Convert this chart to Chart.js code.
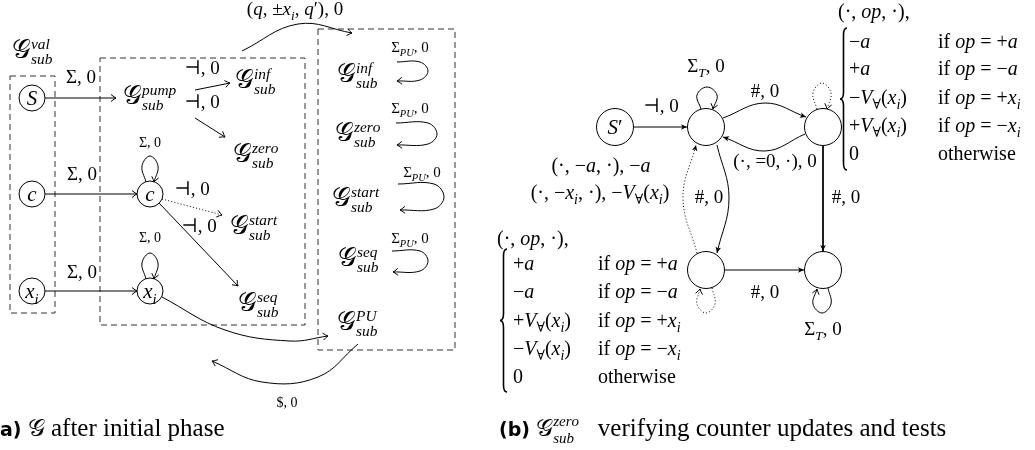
<!DOCTYPE html>
<html>
<head>
<meta charset="utf-8">
<script src="https://cdn.jsdelivr.net/npm/chart.js@4.4.0/dist/chart.umd.min.js"></script>
<style>
  html, body { margin: 0; padding: 0; background: #fff; }
</style>
</head>
<body>
<canvas id="diagram" width="1035" height="450"></canvas>
<script>
// frame is 1035 x 450, y grows downwards (reversed axis)

// states
const nodeLabels = ['S', 'c', 'x_i', 'c', 'x_i', 'S′', '', '', '', ''];
const nodeX = [32, 32, 32, 150, 150, 615, 706, 823, 706, 823];
const nodeY = [98, 194, 291, 194, 291, 127, 127, 127, 270, 270];
const nodeR = [13, 13, 13, 13, 13, 18.5, 18.5, 18.5, 18.5, 18.5];

// dashed boxes of part (a): [left, top, right, bottom]
const boxes = [
    [10, 76, 55, 313],
    [100, 58, 305, 325],
    [318, 29, 455, 350]
];

// transitions: points the edge runs through, line style, arrow head
const edgePoints = [
    // part (a)
    [[45, 98], [116, 98]],
    [[45, 194], [137, 194]],
    [[45, 291], [137, 291]],
    [[195, 90], [230, 83]],
    [[195, 118], [225, 137]],
    [[162, 199], [222, 215]],
    [[159, 203], [238, 286]],
    [[162, 297], [225, 330], [290, 341], [328, 336]],
    [[242, 51], [298, 24], [352, 33]],
    [[358, 344], [318, 377], [262, 382], [212, 361]],
    [[146, 182], [142, 166], [150, 156], [158, 166], [154, 182]],
    [[146, 279], [142, 263], [150, 253], [158, 263], [154, 279]],
    [[397, 62], [420, 62], [428, 71], [420, 80], [397, 81]],
    [[396, 123], [428, 123], [437, 134], [428, 144], [397, 145]],
    [[398, 184], [434, 184], [444, 197], [434, 209], [400, 210]],
    [[392, 251], [420, 251], [428, 261], [420, 271], [393, 272]],
    // part (b)
    [[634, 127], [687, 127]],
    [[723, 118], [765, 103], [806, 117]],
    [[805, 134], [765, 151], [723, 137]],
    [[817, 109], [813, 93], [822, 83], [831, 93], [827, 109]],
    [[823, 146], [823, 251]],
    [[717, 145], [729, 198], [717, 253]],
    [[697, 253], [683, 198], [696, 145]],
    [[725, 270], [804, 270]],
    [[712, 288], [715, 304], [706, 313], [697, 304], [700, 289]],
    [[828, 288], [831, 304], [822, 313], [813, 304], [817, 289]],
    [[701, 109], [697, 95], [707, 87], [717, 95], [713, 109]]
];
const edgeDotted = [
    false, false, false, false, false, true, false, false, false, false,
    false, false, false, false, false, false,
    false, false, false, true, false, false, true, false, true, false, false
];
const edgeHead = [
    'open', 'open', 'open', 'open', 'open', 'open', 'open', 'open', 'open', 'open',
    'open', 'open', 'open', 'open', 'open', 'open',
    'filled', 'filled', 'filled', 'open', 'filled', 'filled', 'filled', 'filled', 'open', 'open', 'open'
];

// texts: [markup, x, baseline, size, align]
const labelsA = [
    ['\\G^{val}_{sub}', 12, 58, 22, 'l'],
    ['\\G^{pump}_{sub}', 123, 104, 22, 'l'],
    ['\\G^{inf}_{sub}', 235, 88, 22, 'l'],
    ['\\G^{zero}_{sub}', 233, 162, 22, 'l'],
    ['\\G^{start}_{sub}', 230, 234, 22, 'l'],
    ['\\G^{seq}_{sub}', 238, 311, 22, 'l'],
    ['\\G^{inf}_{sub}', 337, 82, 22, 'l'],
    ['\\G^{zero}_{sub}', 335, 141, 22, 'l'],
    ['\\G^{start}_{sub}', 332, 206, 22, 'l'],
    ['\\G^{seq}_{sub}', 338, 266, 22, 'l'],
    ['\\G^{PU}_{sub}', 337, 330, 22, 'l'],
    ['Σ, 0', 81, 83, 19, 'c'],
    ['Σ, 0', 82, 180, 19, 'c'],
    ['Σ, 0', 82, 278, 19, 'c'],
    ['Σ, 0', 150, 147, 14, 'c'],
    ['Σ, 0', 150, 242, 14, 'c'],
    ['⊣, 0', 202, 74, 19, 'c'],
    ['⊣, 0', 202, 108, 19, 'c'],
    ['⊣, 0', 192, 195, 19, 'c'],
    ['⊣, 0', 199, 232, 19, 'c'],
    ['(q, ±x_i, q′), 0', 295, 15, 19, 'c'],
    ['Σ_{PU}, 0', 410, 52, 15, 'c'],
    ['Σ_{PU}, 0', 410, 113, 15, 'c'],
    ['Σ_{PU}, 0', 422, 177, 15, 'c'],
    ['Σ_{PU}, 0', 410, 243, 15, 'c'],
    ['$, 0', 287, 407, 14, 'c'],
    ['\\sf{a)} \\g\\rm{ after initial phase}', 0, 436, 25, 'l']
];
const labelsB = [
    ['⊣, 0', 661, 112, 19, 'c'],
    ['Σ_T, 0', 706, 72, 19, 'c'],
    ['#, 0', 765, 97, 19, 'c'],
    ['(·, =0, ·), 0', 775, 167, 19, 'c'],
    ['(·, −a, ·), −a', 601, 172, 20, 'c'],
    ['(·, −x_i, ·), −V_∀(x_i)', 600, 199, 20, 'c'],
    ['#, 0', 709, 203, 19, 'c'],
    ['#, 0', 846, 203, 19, 'c'],
    ['#, 0', 765, 298, 19, 'c'],
    ['Σ_T, 0', 823, 335, 19, 'c'],
    ['\\sf{(b)} \\g^{zero}_{sub} \\rm{  verifying counter updates and tests}', 499, 436, 25, 'l']
];

// the two "cases" blocks
const casesLeft = ['+a', '−a', '+V_∀(x_i)', '−V_∀(x_i)', '0'];
const condLeft = ['\\rm{if }op = +a', '\\rm{if }op = −a', '\\rm{if }op = +x_i', '\\rm{if }op = −x_i', '\\rm{otherwise}'];
const rowsLeftY = [270, 298, 327, 355, 383];
const casesRight = ['−a', '+a', '−V_∀(x_i)', '+V_∀(x_i)', '0'];
const condRight = ['\\rm{if }op = +a', '\\rm{if }op = −a', '\\rm{if }op = +x_i', '\\rm{if }op = −x_i', '\\rm{otherwise}'];
const rowsRightY = [48, 75, 104, 132, 160];

const SERIF = '"Liberation Serif", "DejaVu Serif", serif';

function fontOf (kind, size) {
    if (kind === 'it') return `italic ${size}px ${SERIF}`;
    if (kind === 'sf') return `bold ${size}px "DejaVu Sans", sans-serif`;
    if (kind === 'cal') return `${size}px "DejaVu Sans", "DejaVu Serif", ${SERIF}`;
    return `${size}px ${SERIF}`;
}

function readGroup (src, i) {
    if (src[i] !== '{') return [src[i], i + 1];
    let depth = 1;
    let j = i + 1;
    while (j < src.length && depth > 0) {
        if (src[j] === '{') depth++;
        else if (src[j] === '}') depth--;
        j++;
    }
    return [src.slice(i + 1, j - 1), j];
}

// tiny LaTeX-like layout: letters italic, \G (\g smaller), \rm{}, \sf{}, _ and ^
function layoutMath (ctx, src, size, x, dy, out) {
    let i = 0;
    let base = x;
    let lastScript = false;
    const put = (t, kind, s) => {
        const font = fontOf(kind, s);
        ctx.font = font;
        out.push({ t, font, x, dy });
        x += ctx.measureText(t).width;
    };
    while (i < src.length) {
        const ch = src[i];
        if (ch === '_' || ch === '^') {
            const [g, j] = readGroup(src, i + 1);
            const sx = lastScript ? base : x;
            if (!lastScript) base = x;
            const scale = size > 22 ? 0.6 : 0.7;
            const end = layoutMath(ctx, g, size * scale, sx, dy + (ch === '_' ? 0.27 * size : -0.4 * size), out);
            x = lastScript ? Math.max(x, end) : end;
            lastScript = true;
            i = j;
            continue;
        }
        lastScript = false;
        if (ch === '\\') {
            const cmd = /^([a-zA-Z]+|.)/.exec(src.slice(i + 1))[0];
            i += 1 + cmd.length;
            if (cmd === 'G') {
                put('𝒢', 'cal', size * 1.2);
            } else if (cmd === 'g') {
                put('𝒢', 'cal', size * 0.95);
            } else if (cmd === 'rm') {
                const [g, j] = readGroup(src, i);
                put(g, 'rm', size);
                i = j;
            } else if (cmd === 'sf') {
                const [g, j] = readGroup(src, i);
                put(g, 'sf', Math.round(size * 0.74));
                i = j;
            }
            continue;
        }
        if (ch === ' ') {
            x += size * 0.25;
        } else {
            put(ch, /[a-zA-Z]/.test(ch) ? 'it' : 'rm', size);
        }
        i++;
    }
    return x;
}

function drawMath (ctx, src, x, y, size, align) {
    const out = [];
    const w = layoutMath(ctx, src, size, 0, 0, out);
    const left = align === 'c' ? x - w / 2 : (align === 'r' ? x - w : x);
    out.forEach(g => {
        ctx.font = g.font;
        ctx.fillText(g.t, left + g.x, y + g.dy);
    });
}

function drawHead (ctx, fx, fy, tx, ty, kind) {
    const len = Math.hypot(tx - fx, ty - fy) || 1;
    const ux = (tx - fx) / len;
    const uy = (ty - fy) / len;
    const nx = -uy;
    const ny = ux;
    ctx.beginPath();
    if (kind === 'filled') {
        ctx.moveTo(tx, ty);
        ctx.lineTo(tx - 6 * ux + 2.8 * nx, ty - 6 * uy + 2.8 * ny);
        ctx.lineTo(tx - 4.5 * ux, ty - 4.5 * uy);
        ctx.lineTo(tx - 6 * ux - 2.8 * nx, ty - 6 * uy - 2.8 * ny);
        ctx.closePath();
        ctx.fill();
    } else {
        ctx.lineWidth = 1;
        ctx.moveTo(tx - 5 * ux + 3.5 * nx, ty - 5 * uy + 3.5 * ny);
        ctx.quadraticCurveTo(tx - 1.5 * ux + 0.6 * nx, ty - 1.5 * uy + 0.6 * ny, tx, ty);
        ctx.quadraticCurveTo(tx - 1.5 * ux - 0.6 * nx, ty - 1.5 * uy - 0.6 * ny, tx - 5 * ux - 3.5 * nx, ty - 5 * uy - 3.5 * ny);
        ctx.stroke();
    }
}

function drawBrace (ctx, x, y1, y2, w) {
    const ym = (y1 + y2) / 2;
    const xm = x + w / 2;
    ctx.beginPath();
    ctx.moveTo(x + w, y1);
    ctx.quadraticCurveTo(xm, y1, xm, y1 + w);
    ctx.lineTo(xm, ym - w);
    ctx.quadraticCurveTo(xm, ym, x, ym);
    ctx.quadraticCurveTo(xm, ym, xm, ym + w);
    ctx.lineTo(xm, y2 - w);
    ctx.quadraticCurveTo(xm, y2, x + w, y2);
    ctx.lineWidth = 1.6;
    ctx.stroke();
}

const diagramText = {
    id: 'diagramText',
    afterDatasetsDraw (chart) {
        const { ctx } = chart;
        const sx = chart.scales.x;
        const sy = chart.scales.y;
        const px = v => sx.getPixelForValue(v);
        const py = v => sy.getPixelForValue(v);
        ctx.save();
        ctx.fillStyle = '#000';
        ctx.strokeStyle = '#000';
        ctx.textBaseline = 'alphabetic';

        // arrow heads at the end of each transition
        chart.data.datasets.forEach((ds, i) => {
            if (!ds.head) return;
            const pts = chart.getDatasetMeta(i).data;
            const tip = pts[pts.length - 1];
            let fx = pts[pts.length - 2].x;
            let fy = pts[pts.length - 2].y;
            if (ds.tension > 0 && tip.cp1x !== undefined && Math.hypot(tip.cp1x - tip.x, tip.cp1y - tip.y) > 0.5) {
                fx = tip.cp1x;
                fy = tip.cp1y;
            }
            drawHead(ctx, fx, fy, tip.x, tip.y, ds.head);
        });

        nodeLabels.forEach((t, k) => {
            if (t) drawMath(ctx, t, px(nodeX[k]), py(nodeY[k]) + 7, 21, 'c');
        });

        labelsA.concat(labelsB).forEach(([t, x, y, s, a]) => drawMath(ctx, t, px(x), py(y), s, a));

        drawMath(ctx, '(·, op, ·),', px(497), py(245), 20, 'l');
        casesLeft.forEach((t, k) => {
            drawMath(ctx, t, px(513), py(rowsLeftY[k]), 20, 'l');
            drawMath(ctx, condLeft[k], px(598), py(rowsLeftY[k]), 20, 'l');
        });
        drawBrace(ctx, px(500), py(249), py(392), 7);

        drawMath(ctx, '(·, op, ·),', px(838), py(18), 20, 'l');
        casesRight.forEach((t, k) => {
            drawMath(ctx, t, px(849), py(rowsRightY[k]), 20, 'l');
            drawMath(ctx, condRight[k], px(938), py(rowsRightY[k]), 20, 'l');
        });
        drawBrace(ctx, px(840), py(28), py(170), 7);

        ctx.restore();
    }
};

const datasets = [];

// states first so they are painted over the edges
datasets.push({
    type: 'scatter',
    data: nodeX.map((x, k) => ({ x, y: nodeY[k] })),
    pointRadius: nodeR,
    pointHoverRadius: nodeR,
    pointBackgroundColor: '#fff',
    pointBorderColor: '#000',
    pointBorderWidth: 1
});

edgePoints.forEach((pts, k) => {
    datasets.push({
        type: 'line',
        data: pts.map(p => ({ x: p[0], y: p[1] })),
        borderColor: '#000',
        borderWidth: 1,
        borderDash: edgeDotted[k] ? [1, 2.2] : [],
        pointRadius: 0,
        fill: false,
        tension: pts.length > 2 ? 0.4 : 0,
        head: edgeHead[k]
    });
});

boxes.forEach(b => {
    datasets.push({
        type: 'line',
        data: [
            { x: b[0], y: b[1] }, { x: b[2], y: b[1] },
            { x: b[2], y: b[3] }, { x: b[0], y: b[3] }, { x: b[0], y: b[1] }
        ],
        borderColor: '#333',
        borderWidth: 1,
        borderDash: [6, 4],
        pointRadius: 0,
        fill: false,
        tension: 0
    });
});

new Chart(document.getElementById('diagram'), {
    type: 'scatter',
    data: { datasets },
    options: {
        responsive: false,
        animation: false,
        events: [],
        devicePixelRatio: 1,
        layout: { padding: 0, autoPadding: false },
        plugins: {
            legend: { display: false },
            tooltip: { enabled: false }
        },
        scales: {
            x: { type: 'linear', min: 0, max: 1035, display: false },
            y: { type: 'linear', min: 0, max: 450, reverse: true, display: false }
        }
    },
    plugins: [diagramText]
});
</script>
</body>
</html>
